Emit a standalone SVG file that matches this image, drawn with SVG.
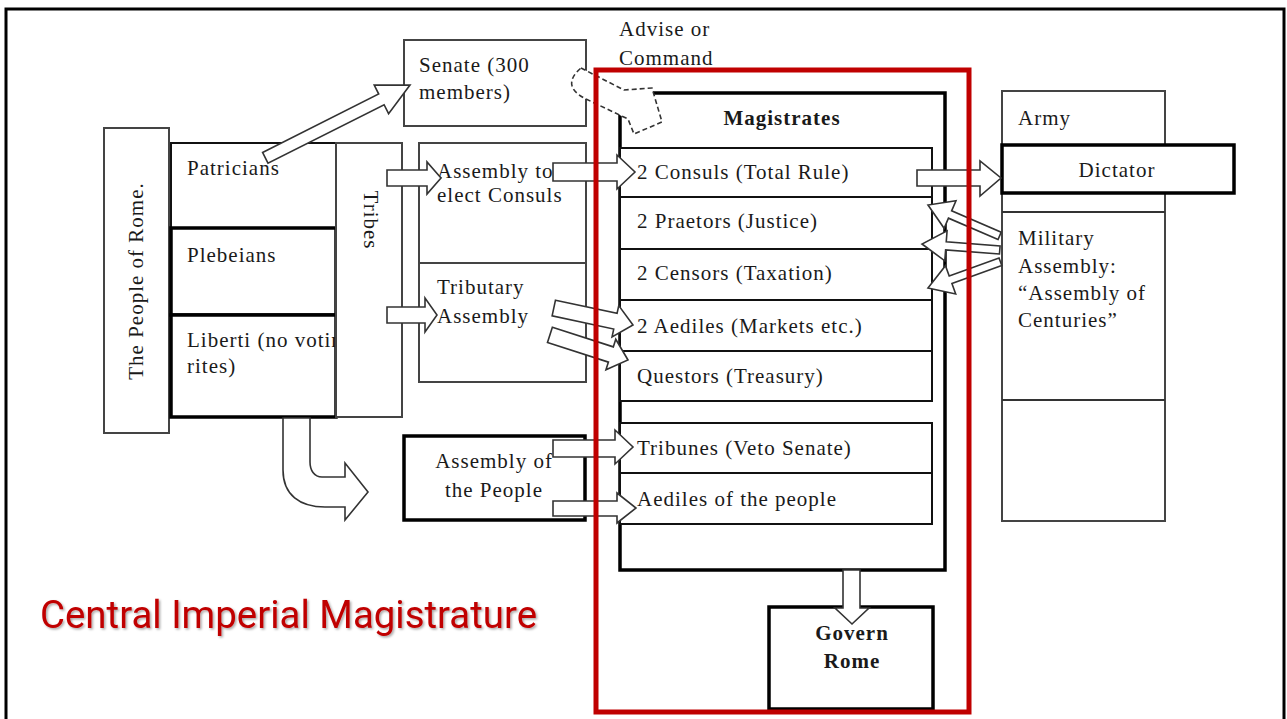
<svg xmlns="http://www.w3.org/2000/svg" width="1287" height="719" viewBox="0 0 1287 719">
<defs>
<style>
.t{font-family:"Liberation Serif","Times New Roman",serif;font-size:21px;letter-spacing:1px;fill:#1a1a1a}
.b{font-weight:bold}
.thin{fill:#fff;stroke:#444;stroke-width:2}
.blk{fill:#fff;stroke:#111;stroke-width:2}
.thk{fill:#fff;stroke:#000;stroke-width:3.5}
.arr{fill:#fff;stroke:#333;stroke-width:1.6;stroke-linejoin:miter}
.dash{fill:#fff;stroke:#333;stroke-width:1.6;stroke-dasharray:5 3}
</style>
<filter id="sh" x="-5%" y="-20%" width="110%" height="150%"><feDropShadow dx="1.5" dy="1.5" stdDeviation="1" flood-color="#000" flood-opacity="0.35"/></filter>
</defs>
<rect x="0" y="0" width="1287" height="719" fill="#fff"/>
<rect x="6" y="9" width="1278" height="730" fill="none" stroke="#000" stroke-width="3"/>

<g id="people">
<rect class="thin" x="104" y="128" width="65" height="305"/>
<text class="t" transform="translate(143,281) rotate(-90)" text-anchor="middle">The People of Rome.</text>
</g>
<g id="patricians">
<rect class="blk" x="171" y="143" width="165" height="85" stroke-width="2.5"/>
<text class="t" x="187" y="175">Patricians</text>
</g>
<g id="plebeians">
<rect class="thk" x="171" y="228" width="165" height="87"/>
<text class="t" x="187" y="262">Plebeians</text>
</g>
<g id="liberti">
<rect class="thk" x="171" y="315" width="165" height="102"/>
<svg x="171" y="315" width="164" height="102" overflow="hidden"><text class="t" x="16" y="32">Liberti (no voting</text><text class="t" x="16" y="58">rites)</text></svg>
</g>
<g id="tribes">
<rect class="thin" x="336" y="143" width="66" height="274"/>
<text class="t" transform="translate(364,220) rotate(90)" text-anchor="middle">Tribes</text>
</g>
<g id="senate">
<rect class="thin" x="404" y="40" width="182" height="86" stroke-width="2.5"/>
<text class="t" x="419" y="72">Senate (300</text>
<text class="t" x="419" y="99">members)</text>
</g>
<g id="advise">
<text class="t" x="619" y="36">Advise or</text>
<text class="t" x="619" y="65">Command</text>
</g>
<g id="assembly-consuls">
<rect class="thin" x="419" y="143" width="167" height="120"/>
<text class="t" x="437" y="178">Assembly to</text>
<text class="t" x="437" y="202">elect Consuls</text>
</g>
<g id="tributary">
<rect class="thin" x="419" y="263" width="167" height="119"/>
<text class="t" x="437" y="294">Tributary</text>
<text class="t" x="437" y="323">Assembly</text>
</g>
<g id="assembly-people">
<rect class="thk" x="404" y="436" width="181" height="84"/>
<text class="t" x="494" y="468" text-anchor="middle">Assembly of</text>
<text class="t" x="494" y="497" text-anchor="middle">the People</text>
</g>
<g id="magistrates">
<rect class="thk" x="620" y="93" width="325" height="477" stroke-width="4"/>
<text class="t b" x="782" y="125" text-anchor="middle">Magistrates</text>
</g>
<g id="consuls"><rect class="blk" x="620" y="148" width="312" height="49"/><text class="t" x="637" y="179">2 Consuls (Total Rule)</text></g>
<g id="praetors"><rect class="blk" x="620" y="197" width="312" height="52"/><text class="t" x="637" y="228">2 Praetors (Justice)</text></g>
<g id="censors"><rect class="blk" x="620" y="249" width="312" height="51"/><text class="t" x="637" y="280">2 Censors (Taxation)</text></g>
<g id="aediles"><rect class="blk" x="620" y="300" width="312" height="51"/><text class="t" x="637" y="333">2 Aediles (Markets etc.)</text></g>
<g id="questors"><rect class="blk" x="620" y="351" width="312" height="50"/><text class="t" x="637" y="383">Questors (Treasury)</text></g>
<g id="tribunes"><rect class="blk" x="620" y="423" width="312" height="50"/><text class="t" x="637" y="455">Tribunes (Veto Senate)</text></g>
<g id="aediles-people"><rect class="blk" x="620" y="473" width="312" height="51"/><text class="t" x="637" y="506">Aediles of the people</text></g>
<g id="govern">
<rect class="thk" x="769" y="607" width="164" height="102" stroke-width="4"/>
<text class="t b" x="852" y="640" text-anchor="middle">Govern</text>
<text class="t b" x="852" y="668" text-anchor="middle">Rome</text>
</g>
<g id="army">
<rect class="thin" x="1002" y="91" width="163" height="430"/>
<line x1="1002" y1="212" x2="1165" y2="212" stroke="#333" stroke-width="2"/>
<line x1="1002" y1="400" x2="1165" y2="400" stroke="#333" stroke-width="2"/>
<text class="t" x="1018" y="125">Army</text>
<text class="t" x="1018" y="245">Military</text>
<text class="t" x="1018" y="273">Assembly:</text>
<text class="t" x="1018" y="300">“Assembly of</text>
<text class="t" x="1018" y="327">Centuries”</text>
</g>
<g id="dictator">
<rect class="thk" x="1002" y="145" width="232" height="48" stroke-width="4"/>
<text class="t" x="1117" y="177" text-anchor="middle">Dictator</text>
</g>

<g id="connectors">
<path class="arr" d="M-162,-6 H-32 V-16 L0,0 L-32,16 V6 H-162 Z" transform="translate(410,85) rotate(-26.7)"/>
<path class="dash" d="M581,68 L624,90 L652,88 L662,122 L634,134 L628,119 L586,99 Q560,86 581,68 Z"/>
<path class="arr" d="M387,170 H427 V162 L441,178 L427,194 V186 H387 Z"/>
<path class="arr" d="M387,307 H425 V298 L437,315 L425,332 V323 H387 Z"/>
<path class="arr" d="M553,163 H617 V155 L635,172 L617,189 V181 H553 Z"/>
<path class="arr" d="M-81,-8 H-18 V-16 L0,0 L-18,16 V8 H-81 Z" transform="translate(633,325) rotate(12.1)"/>
<path class="arr" d="M-82,-8 H-18 V-16 L0,0 L-18,16 V8 H-82 Z" transform="translate(628,360) rotate(17.8)"/>
<path class="arr" d="M553,440 H615 V430 L633,447 L615,464 V457 H553 Z"/>
<path class="arr" d="M553,501 H617 V493 L636,508 L617,523 V516 H553 Z"/>
<path class="arr" d="M917,170 H980 V161 L1001,178 L980,196 V186 H917 Z"/>
<path class="arr" d="M-78,-4 H-24 V-15 L0,0 L-24,15 V4 H-78 Z" transform="translate(928,205) rotate(-156.7)"/>
<path class="arr" d="M-78,-4 H-24 V-15 L0,0 L-24,15 V4 H-78 Z" transform="translate(922,244) rotate(-175.6)"/>
<path class="arr" d="M-77,-4 H-24 V-15 L0,0 L-24,15 V4 H-77 Z" transform="translate(928,288) rotate(160.1)"/>
<path class="arr" d="M843,570 V608 H835 L852,624 L869,608 H860 V570 Z"/>
<path class="arr" d="M283,418 L283,470 C283,495 300,507 325,507 L345,507 L345,520 L368,492 L345,463 L345,477 L322,477 C314,477 310,470 310,462 L310,418 Z"/>
</g>

<rect x="596" y="70" width="373" height="642" fill="none" stroke="#c00000" stroke-width="5"/>
<g id="title">
<text x="40" y="628" font-family="Roboto,'Liberation Sans',sans-serif" font-size="39" textLength="497" lengthAdjust="spacingAndGlyphs" fill="#c00000" filter="url(#sh)">Central Imperial Magistrature</text>
</g>
</svg>
